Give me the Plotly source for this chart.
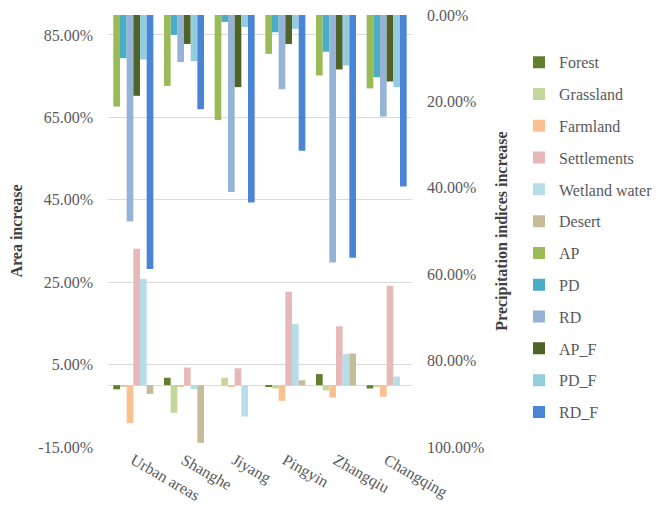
import plotly.graph_objects as go

categories = ["Urban areas", "Shanghe", "Jiyang", "Pingyin", "Zhangqiu", "Changqing"]

# Land-use area increase (%), left axis
forest      = [-1.0, 1.8, 0.0, -0.4, 2.7, -0.8]
grassland   = [-0.3, -6.7, 1.8, -0.8, -1.3, -0.2]
farmland    = [-9.2, -0.2, -0.2, -3.8, -3.0, -2.8]
settlements = [33.1, 4.3, 4.1, 22.7, 14.3, 24.1]
wetland     = [25.8, -1.0, -7.6, 14.8, 7.6, 2.1]
desert      = [-2.1, -14.0, 0.0, 1.2, 7.7, 0.0]

# Precipitation indices increase (%), right (reversed) axis
ap   = [21.2, 16.4, 24.3, 9.0, 14.0, 17.0]
pd_  = [10.0, 4.6, 1.6, 4.0, 8.5, 14.4]
rd   = [47.8, 10.9, 41.0, 17.2, 57.3, 23.5]
ap_f = [18.7, 6.7, 16.7, 6.7, 12.6, 15.4]
pd_f = [10.3, 10.7, 2.8, 3.2, 11.7, 16.7]
rd_f = [58.8, 21.8, 43.4, 31.4, 56.2, 39.7]

left_ticks = [-15, 5, 25, 45, 65, 85]
right_ticks = [0, 20, 40, 60, 80, 100]

left_series = [
    ("Forest", forest, "#627F2E"),
    ("Grassland", grassland, "#C3D69B"),
    ("Farmland", farmland, "#FAC090"),
    ("Settlements", settlements, "#E6B9B8"),
    ("Wetland water", wetland, "#B7DEE8"),
    ("Desert", desert, "#C4BD97"),
]
right_series = [
    ("AP", ap, "#9BBB59"),
    ("PD", pd_, "#4BACC6"),
    ("RD", rd, "#95B3D7"),
    ("AP_F", ap_f, "#4F6228"),
    ("PD_F", pd_f, "#93CDDD"),
    ("RD_F", rd_f, "#4A84D6"),
]

FONT = "Liberation Serif"
GRAY = "#595959"
FS = 16

fig = go.Figure()
for name, vals, col in left_series:
    fig.add_trace(go.Bar(x=categories, y=vals, name=name, marker_color=col,
                         marker_line_width=0, yaxis="y", legendgroup=name))
for name, vals, col in right_series:
    fig.add_trace(go.Bar(x=categories, y=vals, name=name, marker_color=col,
                         marker_line_width=0, yaxis="y2", legendgroup=name))

fig.update_layout(
    width=662, height=501,
    margin=dict(l=100, r=258, t=7, b=62, autoexpand=False),
    paper_bgcolor="white", plot_bgcolor="white",
    barmode="group", bargap=0.21, bargroupgap=0,
    font=dict(family=FONT, size=FS, color=GRAY),
    showlegend=True,
    legend=dict(x=1.352, y=0.93, xanchor="left", yanchor="top",
                font=dict(family=FONT, size=FS, color=GRAY), tracegroupgap=8,
                itemwidth=30, bgcolor="rgba(0,0,0,0)"),
    xaxis=dict(tickangle=30, showgrid=False, showline=False, ticks="",
               automargin=False, tickfont=dict(family=FONT, size=FS, color=GRAY)),
    yaxis=dict(range=[-15, 89.85], tickvals=left_ticks,
               ticktext=[f"{v:.2f}%" for v in left_ticks], showgrid=True,
               gridcolor="#D9D9D9", gridwidth=1, zeroline=True,
               zerolinecolor="#D9D9D9", zerolinewidth=1, showline=False,
               ticks="", ticklabelstandoff=14, automargin=False,
               ticklabeloverflow="allow",
               tickfont=dict(family=FONT, size=FS, color=GRAY),
               title=dict(text="<b>Area increase</b>",
                          font=dict(family=FONT, size=FS, color="#404040"),
                          standoff=20)),
    yaxis2=dict(overlaying="y", side="right", range=[100, 0],
                tickvals=right_ticks, ticktext=[f"{v:.2f}%" for v in right_ticks],
                showgrid=False, zeroline=False, showline=False, ticks="",
                ticklabelstandoff=14, automargin=False,
                ticklabeloverflow="allow",
                tickfont=dict(family=FONT, size=FS, color=GRAY),
                title=dict(text="<b>Precipitation indices increase</b>",
                           font=dict(family=FONT, size=FS, color="#404040"),
                           standoff=12)),
)

fig.write_html("out.html")
